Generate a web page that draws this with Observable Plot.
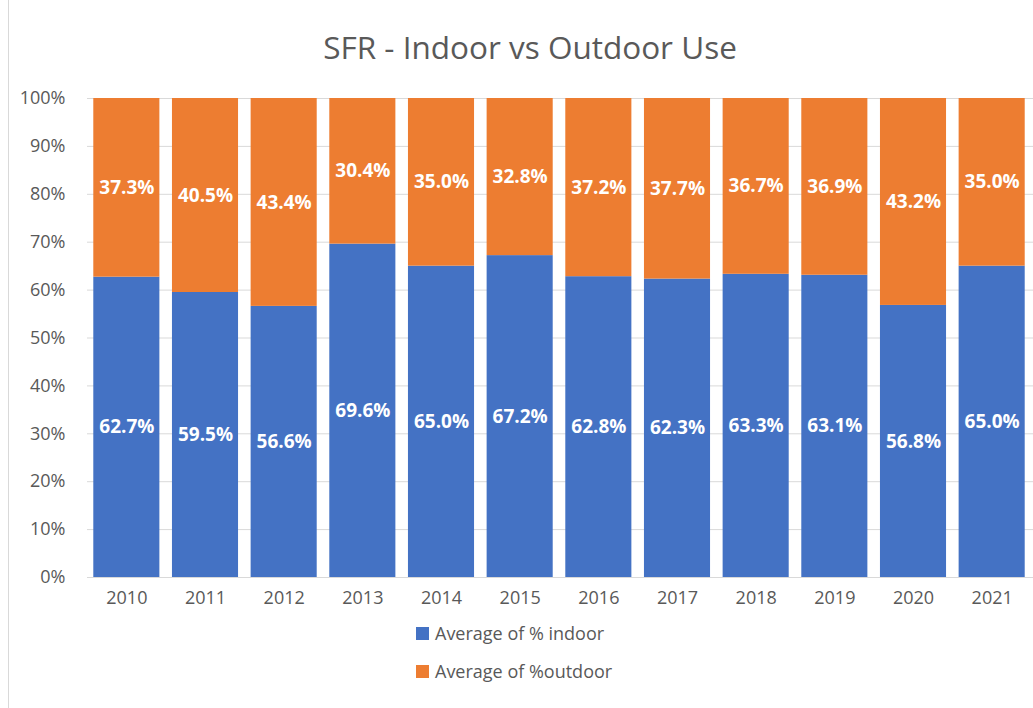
<!DOCTYPE html>
<html>
<head>
<meta charset="utf-8">
<script src="https://cdn.jsdelivr.net/npm/d3@7"></script>
<script src="https://cdn.jsdelivr.net/npm/@observablehq/plot@0.6"></script>
<style>
  html, body { margin: 0; padding: 0; background: #fff; }
  body { width: 1033px; height: 708px; overflow: hidden; font-family: "Open Sans", sans-serif; position: relative; }
  #frame { position: absolute; left: 8px; top: 0; width: 1025px; height: 708px; border-left: 1px solid #d9d9d9; }
  #title { position: absolute; left: 0; top: 25px; width: 1060px; text-align: center; font-size: 31.5px; color: #595959; }
  #chart { position: absolute; left: 0; top: 80px; }
  .leg { position: absolute; left: 416px; font-size: 18px; color: #595959; display: flex; align-items: center; }
  .leg span.sw { display: inline-block; width: 13px; height: 13px; margin-right: 6px; }
</style>
</head>
<body>
<div id="frame"></div>
<div id="title">SFR - Indoor vs Outdoor Use</div>
<div id="chart"></div>
<div class="leg" style="top:621px"><span class="sw" style="background:#4472C4"></span>Average of % indoor</div>
<div class="leg" style="top:659px"><span class="sw" style="background:#ED7D31"></span>Average of %outdoor</div>
<script>
const years = ["2010","2011","2012","2013","2014","2015","2016","2017","2018","2019","2020","2021"];
const indoor = [0.627,0.595,0.566,0.696,0.650,0.672,0.628,0.623,0.633,0.631,0.568,0.650];
const outdoor = [0.373,0.405,0.434,0.304,0.350,0.328,0.372,0.377,0.367,0.369,0.432,0.350];
const seriesNames = ["Average of % indoor","Average of %outdoor"];
const colors = ["#4472C4","#ED7D31"];
const yTicks = [0,0.1,0.2,0.3,0.4,0.5,0.6,0.7,0.8,0.9,1.0];

const data = [];
years.forEach((y, i) => {
  data.push({year: y, series: seriesNames[0], value: indoor[i]});
  data.push({year: y, series: seriesNames[1], value: outdoor[i]});
});

const chart = Plot.plot({
  width: 1033,
  height: 539,
  marginTop: 18,
  marginBottom: 42,
  marginLeft: 87,
  marginRight: 2,
  style: {fontFamily: "Open Sans, sans-serif", fontSize: "18px", color: "#595959", background: "transparent"},
  x: {domain: years, paddingInner: 0.16, paddingOuter: 0.08, round: false, label: null, tickSize: 0, tickPadding: 14},
  y: {domain: [0, 1], ticks: yTicks, tickFormat: d3.format(".0%"), label: null, tickSize: 0, tickPadding: 22},
  color: {domain: seriesNames, range: colors},
  marks: [
    Plot.ruleY(yTicks, {stroke: "#d9d9d9", strokeWidth: 1, strokeOpacity: 1, insetRight: -2}),
    Plot.barY(data, {x: "year", y: "value", fill: "series", order: seriesNames}),
    Plot.text(data, Plot.stackY({x: "year", y: "value", z: "series", order: seriesNames,
      text: d => d3.format(".1%")(d.value), fill: "white", fontWeight: "bold", fontSize: 19}))
  ]
});
document.getElementById("chart").appendChild(chart);
</script>
</body>
</html>
